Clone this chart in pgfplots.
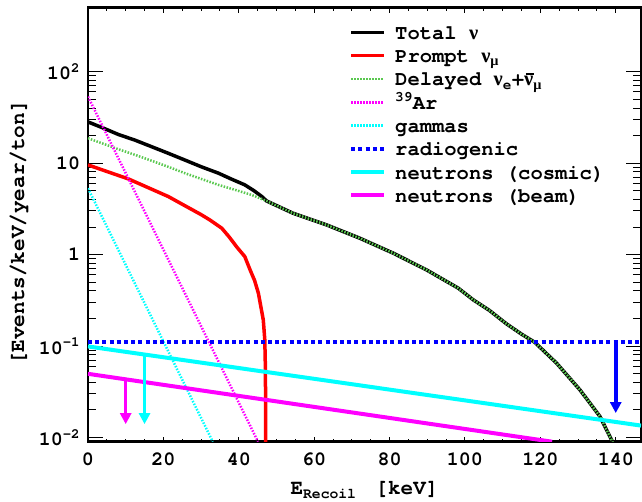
\documentclass[border=0pt]{standalone}
\usepackage{fontspec}
\setmainfont{TeX Gyre Cursor}
\newfontfamily\grk{Liberation Serif}
\usepackage{pgfplots}
\pgfplotsset{compat=1.18}
\usetikzlibrary{arrows.meta}

\definecolor{dgreen}{RGB}{90,200,80}
\definecolor{cyn}{RGB}{0,255,255}
\definecolor{mag}{RGB}{255,0,255}
\definecolor{blu}{RGB}{0,0,255}
\definecolor{rd}{RGB}{255,0,0}
\newcommand{\nubar}{\makebox[0pt][l]{\hspace{0.08em}\rule[0.56em]{0.38em}{1.2pt}}{\grk ν}}

\begin{document}
\fontsize{20}{23}\selectfont\bfseries
\begin{tikzpicture}
\begin{axis}[
  at={(0,0)}, anchor=south west,
  scale only axis, width=553pt, height=434pt,
  ymode=log,
  xmin=0, xmax=146.7, ymin=0.009, ymax=500,
  axis line style={line width=2.5pt},
  tick align=inside,
  xtick={0,20,...,140}, minor x tick num=3,
  ytick={0.01,0.1,1,10,100},
  yticklabels={10\textsuperscript{-2},10\textsuperscript{-1},1\hspace{9pt},10\hspace{9pt},10\textsuperscript{2}},
  major tick length=15pt, minor tick length=8pt,
  xtick style={/pgfplots/major tick length=5pt,/pgfplots/minor tick length=3pt},
  tick style={black, line width=1pt},
  /pgf/number format/assume math mode=true,
  xticklabel style={font=\fontsize{20}{22}\selectfont\bfseries, yshift=-4pt},
  yticklabel style={font=\fontsize{20}{22}\selectfont\bfseries, anchor=east, xshift=-1pt},
  xlabel={E\textsubscript{Recoil}\hspace{0.9em}[keV]},
  ylabel={[Events/keV/year/ton]},
  xlabel style={at={(axis description cs:0.5,-0.1228)}, anchor=base, font=\fontsize{21}{23}\selectfont\bfseries},
  ylabel style={at={(axis description cs:-0.1157,0.482)}, anchor=base, font=\fontsize{21}{23}\selectfont\bfseries},
  legend cell align=left,
  legend image code/.code={\draw[#1] (0pt,7pt) -- (33pt,7pt); \path (42pt,7pt);},
  legend style={draw=none, fill=none, at={(axis description cs:0.472,0.962)}, anchor=north west,
    inner sep=0pt, row sep=0pt,
    nodes={inner sep=0pt, text height=15pt, text depth=8.3pt, anchor=base west},
    font=\fontsize{20.5}{23}\selectfont\bfseries},
]
% Total nu
\addplot[black, line width=3.5pt] coordinates {
(0,28.2)(4,24.2)(8,20.6)(12.5,17.8)(16.9,15.1)(21.3,12.8)(25.7,10.8)(30.1,9.1)
(34.6,7.76)(38,6.7)(41.6,5.78)(44,5.0)(46,4.35)(47.4,3.85)
(54.4,2.83)(63.3,2.11)(72.1,1.51)(81,1.035)(89.8,0.68)(98.2,0.43)(102.2,0.32)
(106.5,0.245)(111,0.175)(115,0.135)(118.5,0.11)(124.3,0.065)(130.5,0.0332)
(135.8,0.017)(138.9,0.0094)(139.6,0.008)};
\addlegendentry{Total {\grk ν}}
% Prompt nu_mu
\addplot[rd, line width=3.5pt] coordinates {
(0,9.55)(5,8.1)(10.7,6.72)(16,5.38)(21.3,4.31)(26,3.37)(30.1,2.72)(32.4,2.38)
(35.5,1.94)(37.5,1.55)(39.4,1.22)(41.6,0.95)(43,0.68)(44.2,0.52)(45.2,0.378)
(46.5,0.193)(46.9,0.117)(47.05,0.06)(47.1,0.03)(47.1,0.008)};
\addlegendentry{Prompt {\grk ν}\textsubscript{\grk μ}}
% Delayed
\addplot[dgreen, line width=2.5pt, dash pattern=on 1.5pt off 1.5pt] coordinates {
(0,18.7)(4,16.3)(8,14.2)(12.5,12.3)(16.9,10.6)(21.3,9.1)(25.7,7.76)(30.1,6.7)
(34.6,5.78)(39,5.1)(43.4,4.49)(47.4,3.85)
(54.4,2.83)(63.3,2.11)(72.1,1.51)(81,1.035)(89.8,0.68)(98.2,0.43)(102.2,0.32)
(106.5,0.245)(111,0.175)(115,0.135)(118.5,0.11)(124.3,0.065)(130.5,0.0332)
(135.8,0.017)(138.9,0.0094)(139.6,0.008)};
\addlegendentry{Delayed {\grk ν}\textsubscript{e}+\nubar\textsubscript{\grk μ}}
% 39Ar
\addplot[mag, line width=2.5pt, dash pattern=on 1.5pt off 1.5pt] coordinates {(0,53.3)(45.1,0.009)};
\addlegendentry{\textsuperscript{39}Ar}
% gammas
\addplot[cyn, line width=2.5pt, dash pattern=on 1.5pt off 1.5pt] coordinates {(0,5.3)(33.1,0.009)};
\addlegendentry{gammas}
% radiogenic
\addplot[blu, line width=4pt, dash pattern=on 4pt off 3.2pt] coordinates {(0,0.11)(146.7,0.11)};
\addlegendentry{radiogenic}
% neutrons cosmic
\addplot[cyn, line width=4pt] coordinates {(0,0.099)(146.7,0.0135)};
\addlegendentry{neutrons (cosmic)}
% neutrons beam
\addplot[mag, line width=4pt] coordinates {(0,0.0497)(123.1,0.009)};
\addlegendentry{neutrons (beam)}
% upper-limit arrows
\addplot[blu, line width=3.5pt, -{Triangle[length=11pt,width=11pt]}, forget plot] coordinates {(140,0.11)(140,0.0185)};
\addplot[cyn, line width=3.5pt, -{Triangle[length=11pt,width=11pt]}, forget plot] coordinates {(15,0.081)(15,0.014)};
\addplot[mag, line width=3.5pt, -{Triangle[length=11pt,width=11pt]}, forget plot] coordinates {(10,0.043)(10,0.014)};
\end{axis}
\pgfresetboundingbox
\path[use as bounding box] (-88pt,-60.3pt) rectangle (554pt,441.7pt);
\end{tikzpicture}
\end{document}
